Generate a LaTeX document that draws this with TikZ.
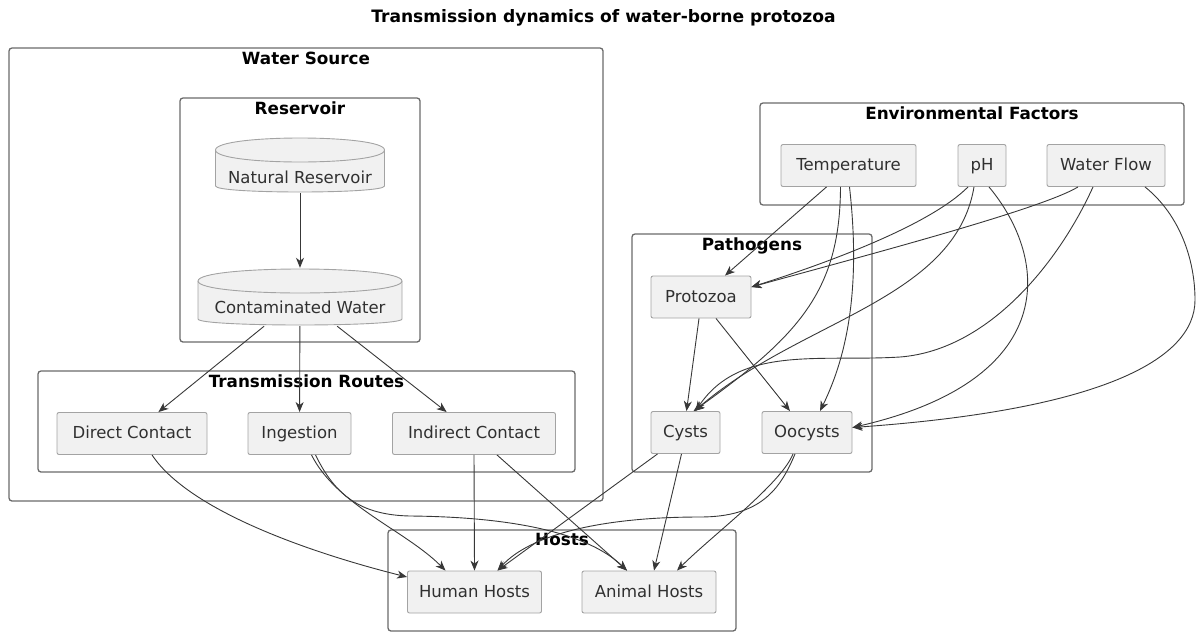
\documentclass[tikz,border=0pt]{standalone}
\usepackage{fontspec}
\setmainfont{DejaVu Sans}
\usetikzlibrary{arrows.meta,positioning,calc}
\definecolor{boxfill}{HTML}{F1F1F1}
\definecolor{boxline}{HTML}{A3A3A3}
\definecolor{frameline}{HTML}{6A6A6A}
\definecolor{edgeline}{HTML}{383838}
\definecolor{txt}{HTML}{303030}

\begin{document}
\begin{tikzpicture}[x=1pt,y=-1pt,
  font=\fontsize{16.5}{19}\selectfont, >={Stealth[length=10pt,width=8pt,inset=3pt]},
  box/.style={draw=boxline, fill=boxfill, rounded corners=2pt, minimum height=42pt, inner sep=0pt, text height=12pt, text depth=2pt, text=txt, line width=0.9pt},
  dbline/.style={draw=boxline, fill=boxfill, line width=0.9pt},
  db/.style={inner sep=0pt, text depth=0pt, text=txt,
    path picture={
      \coordinate (dbnw) at ([shift={(1,1)}]path picture bounding box.north west);
      \coordinate (dbse) at ([shift={(-1,-1)}]path picture bounding box.south east);
      \filldraw[dbline] ($(dbnw)+(0,12)$) -- ($(dbnw |- dbse)+(0,-6)$) .. controls +(0,8) and +(0,8) .. ($(dbse)+(0,-6)$)
        -- ($(dbse |- dbnw)+(0,12)$) .. controls +(0,-16) and +(0,-16) .. ($(dbnw)+(0,12)$);
      \draw[dbline, fill=none] ($(dbnw)+(0,12)$) .. controls +(0,16) and +(0,16) .. ($(dbse |- dbnw)+(0,12)$);
    }},
  frame/.style={draw=frameline, line width=1.3pt, rounded corners=3pt, inner sep=0pt},
  ftitle/.style={font=\fontsize{16.8}{19}\selectfont\bfseries, inner sep=0pt},
  edge/.style={->, draw=edgeline, line width=0.9pt},
]
\useasboundingbox (0,0) rectangle (1196,632);

\node[ftitle, font=\fontsize{17.1}{20}\selectfont\bfseries] (title) at (603.5,18) {Transmission dynamics of water-borne protozoa};

% clusters
\node[frame, minimum width=594pt, minimum height=453pt] (wsrc) at (306,274.5) {};
\node[ftitle, below=4pt of wsrc.north] (wsrct) {Water Source};
\node[frame, minimum width=240pt, minimum height=244pt] (resv) at (300,220) {};
\node[ftitle, below=4pt of resv.north] (resvt) {Reservoir};
\node[frame, minimum width=537pt, minimum height=101pt] (routes) at (306.5,421.5) {};
\node[ftitle, below=4pt of routes.north] (routest) {Transmission Routes};
\node[frame, minimum width=424pt, minimum height=102pt] (envf) at (972,154) {};
\node[ftitle, below=4pt of envf.north] (envft) {Environmental Factors};
\node[frame, minimum width=240pt, minimum height=238pt] (patho) at (752,353) {};
\node[ftitle, below=4pt of patho.north] (pathot) {Pathogens};
\node[frame, minimum width=348pt, minimum height=101pt] (hosts) at (562,580.5) {};
\node[ftitle, below=4pt of hosts.north] (hostst) {Hosts};

% water source
\node[db, minimum width=171pt, minimum height=56pt, text height=36pt] (natres) at (300,165) {Natural Reservoir};
\node[db, minimum width=206pt, minimum height=58pt, text height=32pt] (contw) at (300,297) {Contaminated Water};
\node[box, minimum width=150pt] (direct) at (132,433.5) {Direct Contact};
\node[box, minimum width=103pt] (ingest) at (299.5,433.5) {Ingestion};
\node[box, minimum width=163pt] (indirect) at (474,433.5) {Indirect Contact};

% environment
\node[box, minimum width=135pt] (temp) at (848.5,165.5) {Temperature};
\node[box, minimum width=48pt] (ph) at (982,165.5) {pH};
\node[box, minimum width=118pt] (wf) at (1106,165.5) {Water Flow};

% pathogens
\node[box, minimum width=100pt] (protozoa) at (701,297) {Protozoa};
\node[box, minimum width=69pt] (cysts) at (685.5,432.5) {Cysts};
\node[box, minimum width=90pt] (oocysts) at (807,432.5) {Oocysts};

% hosts
\node[box, minimum width=134pt] (human) at (474.5,592) {Human Hosts};
\node[box, minimum width=134pt] (animal) at (649,592) {Animal Hosts};

% edges
\draw[edge] (natres) -- (contw);
\draw[edge] (contw) -- (direct);
\draw[edge] (contw) -- (ingest);
\draw[edge] (contw) -- (indirect);

\draw[edge] ([xshift=20pt]direct.south) .. controls +(40,60) and +(-80,-20) .. ([yshift=15pt]human.west);
\draw[edge] ([xshift=12pt]ingest.south) .. controls +(25,50) and +(-40,-40) .. ([xshift=-29pt]human.north);
\draw[edge] ([xshift=16pt]ingest.south) .. controls (335,495) and (360,515) .. (410,516) .. controls (520,517) and (590,535) .. ([xshift=-22pt]animal.north);
\draw[edge] (indirect.south) -- (human.north);
\draw[edge] ([xshift=23pt]indirect.south) -- ([xshift=-22pt]animal.north);

\draw[edge] ([xshift=-22pt]temp.south) -- ([xshift=24pt]protozoa.north);
\draw[edge] ([xshift=-8pt]temp.south) .. controls (840,290) and (800,335) .. ([xshift=8pt]cysts.north);
\draw[edge] ([xshift=1pt]temp.south) .. controls (860,280) and (850,350) .. ([xshift=13pt]oocysts.north);
\draw[edge] ([xshift=-14pt]ph.south) .. controls (930,225) and (830,262) .. ([yshift=10pt]protozoa.east);
\draw[edge] ([xshift=-8pt]ph.south) .. controls (955,300) and (800,320) .. ([xshift=9pt]cysts.north);
\draw[edge] ([xshift=7pt]ph.south) .. controls (1050,260) and (1060,380) .. ([yshift=5pt]oocysts.east);
\draw[edge] ([xshift=-28pt]wf.south) .. controls (1040,210) and (852,259) .. ([yshift=10pt]protozoa.east);
\draw[edge] ([xshift=-13pt]wf.south) .. controls (1060,260) and (990,350) .. (900,357) .. controls (820,362) and (740,345) .. ([xshift=10pt]cysts.north);
\draw[edge] ([xshift=39pt]wf.south) .. controls (1180,215) and (1195,260) .. (1195,300) .. controls (1195,360) and (1100,410) .. ([yshift=5pt]oocysts.east);

\draw[edge] ([xshift=-2pt]protozoa.south) -- ([xshift=1pt]cysts.north);
\draw[edge] ([xshift=15pt]protozoa.south) -- ([xshift=-17pt]oocysts.north);

\draw[edge] ([xshift=-28pt]cysts.south) -- ([xshift=23pt]human.north);
\draw[edge] ([xshift=-4pt]cysts.south) -- ([xshift=5pt]animal.north);
\draw[edge] ([xshift=-12pt]oocysts.south) .. controls (780,490) and (760,517) .. (700,517) .. controls (600,517) and (530,535) .. ([xshift=23pt]human.north);
\draw[edge] ([xshift=-14pt]oocysts.south) .. controls +(-12,30) and +(35,-35) .. ([xshift=28pt]animal.north);
\end{tikzpicture}
\end{document}
